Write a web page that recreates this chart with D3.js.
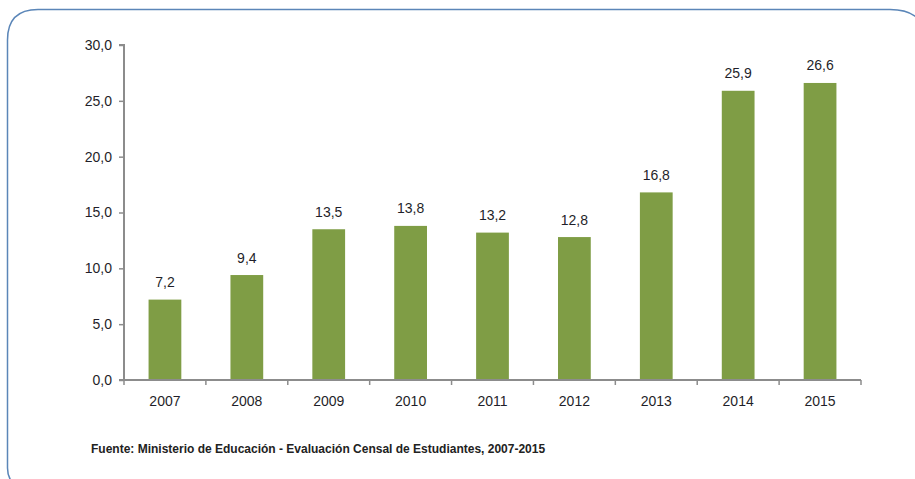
<!DOCTYPE html>
<html>
<head>
<meta charset="utf-8">
<script src="https://cdn.jsdelivr.net/npm/d3@7"></script>
<style>
html,body{margin:0;padding:0;background:#fff;}
svg{display:block;font-family:"Liberation Sans",Arial,sans-serif;}
</style>
</head>
<body>
<svg id="chart" width="915" height="479"></svg>
<script>
const categories = ["2007","2008","2009","2010","2011","2012","2013","2014","2015"];
const values = [7.2, 9.4, 13.5, 13.8, 13.2, 12.8, 16.8, 25.9, 26.6];
const yTicks = [0, 5, 10, 15, 20, 25, 30];
const sourceText = "Fuente: Ministerio de Educación - Evaluación Censal de Estudiantes, 2007-2015";

const svg = d3.select("#chart");
const fmt = v => d3.format(".1f")(v).replace(".", ",");

// frame
svg.append("path")
  .attr("d", "M7.5,468 L7.5,40 Q7.5,9.5 38,9.5 L890,9.5 Q918,9.5 925,30 L925,490 L24,490 Q7.5,484 7.5,468 Z")
  .attr("fill", "none").attr("stroke", "#5b86b8").attr("stroke-width", 1.5);

const x = d3.scaleBand().domain(categories).range([124, 861]).padding(0);
const y = d3.scaleLinear().domain([0, 30]).range([380, 45]);

// bars
const bw = x.bandwidth() * 0.4;
svg.append("g").selectAll("rect").data(values).join("rect")
  .attr("x", (d, i) => x(categories[i]) + (x.bandwidth() - bw) / 2)
  .attr("y", d => y(d))
  .attr("width", bw)
  .attr("height", d => y(0) - y(d))
  .attr("fill", "#7f9d45");

// value labels
svg.append("g").selectAll("text").data(values).join("text")
  .attr("x", (d, i) => x(categories[i]) + x.bandwidth() / 2)
  .attr("y", d => y(d) - 12.5)
  .attr("text-anchor", "middle")
  .attr("font-size", 14)
  .attr("fill", "#1f1f2a")
  .text(d => fmt(d));

// y axis
const yAxis = d3.axisLeft(y).tickValues(yTicks).tickFormat(fmt).tickSize(5).tickPadding(7);
const gy = svg.append("g").attr("transform", "translate(124,0)").call(yAxis);
gy.select(".domain").attr("stroke", "#8c8c8c").attr("stroke-width", 2).attr("d", "M-5,45H0V380H-5");
gy.selectAll(".tick line").attr("stroke", "#8c8c8c").attr("stroke-width", 1.5);
gy.selectAll(".tick text").attr("font-size", 14).attr("fill", "#1f1f2a").attr("font-family", "Liberation Sans, Arial, sans-serif");

// x axis
const xAxis = d3.axisBottom(x).tickSize(0).tickPadding(16);
const gx = svg.append("g").attr("transform", "translate(0,380)").call(xAxis);
gx.select(".domain").attr("stroke", "#8c8c8c").attr("stroke-width", 2).attr("d", "M124,0H861");
gx.selectAll(".tick text").attr("font-size", 14).attr("fill", "#1f1f2a").attr("font-family", "Liberation Sans, Arial, sans-serif");
// boundary ticks
const bounds = categories.map(c => x(c)).concat([x(categories[categories.length - 1]) + x.bandwidth()]);
gx.append("g").selectAll("line").data(bounds).join("line")
  .attr("x1", d => d).attr("x2", d => d).attr("y1", 0).attr("y2", 5)
  .attr("stroke", "#8c8c8c").attr("stroke-width", 1.5);

// source
svg.append("text")
  .attr("x", 91).attr("y", 453)
  .attr("font-size", 12).attr("font-weight", "bold").attr("fill", "#222")
  .text(sourceText);
</script>
</body>
</html>
